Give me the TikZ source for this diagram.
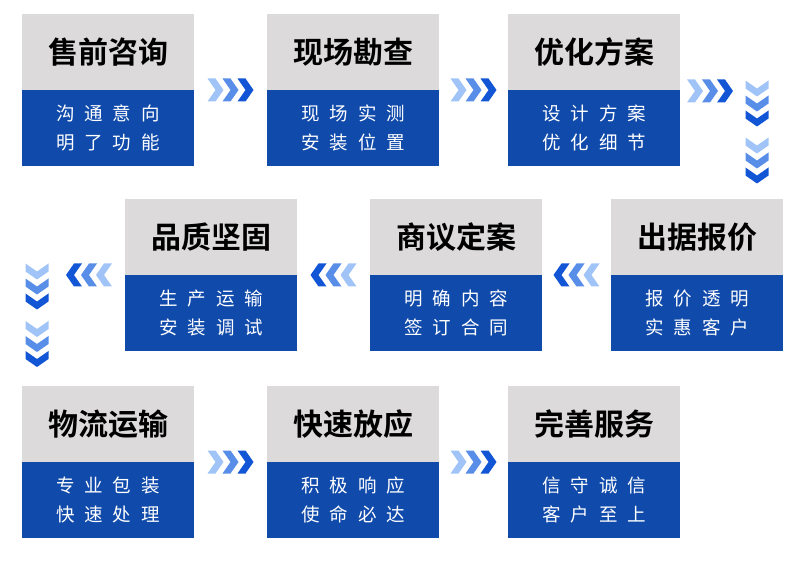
\documentclass[tikz,border=0pt]{standalone}
\usepackage{fontspec}
\usepackage{xcolor}
\usepackage{tikz}
\usetikzlibrary{positioning,calc}
\newfontfamily\cjk[BoldFont={* Bold}]{Noto Sans CJK SC}
\definecolor{headgray}{RGB}{220,218,219}
\definecolor{bodyblue}{RGB}{16,74,170}
\definecolor{chevlight}{RGB}{160,196,247}
\definecolor{chevmid}{RGB}{88,142,232}
\definecolor{chevdark}{RGB}{18,86,214}
\newcommand\gp{\hspace{10pt}}

\begin{document}
\begin{tikzpicture}[x=1pt,y=-1pt,
  head/.style={fill=headgray,minimum width=172pt,minimum height=76pt,inner sep=0pt,outer sep=0pt,
    font=\cjk\bfseries\fontsize{30}{30}\selectfont},
  body/.style={fill=bodyblue,text=white,minimum width=172pt,minimum height=76pt,inner sep=0pt,outer sep=0pt,
    align=center,font=\cjk\fontsize{18.5}{29}\selectfont},
  chevs/.pic={
    \foreach \dx/\col in {-15/chevlight,0/chevmid,15/chevdark}
      \fill[\col,shift={(\dx,0)}] (-8,-11.5) -- (0,-11.5) -- (8,0) -- (0,11.5) -- (-8,11.5) -- (0,0) -- cycle;
  }]
  \useasboundingbox (0,0) rectangle (790,561);

  % row 1
  \node[head] (h1) at (108,52) {售前咨询};
  \node[body,below=0pt of h1] (b1) {沟\gp 通\gp 意\gp 向\\明\gp 了\gp 功\gp 能};
  \node[head] (h2) at (353,52) {现场勘查};
  \node[body,below=0pt of h2] (b2) {现\gp 场\gp 实\gp 测\\安\gp 装\gp 位\gp 置};
  \node[head] (h3) at (594,52) {优化方案};
  \node[body,below=0pt of h3] (b3) {设\gp 计\gp 方\gp 案\\优\gp 化\gp 细\gp 节};

  % row 2
  \node[head] (h7) at (211,237) {品质坚固};
  \node[body,below=0pt of h7] (b7) {生\gp 产\gp 运\gp 输\\安\gp 装\gp 调\gp 试};
  \node[head] (h8) at (456,237) {商议定案};
  \node[body,below=0pt of h8] (b8) {明\gp 确\gp 内\gp 容\\签\gp 订\gp 合\gp 同};
  \node[head] (h9) at (697,237) {出据报价};
  \node[body,below=0pt of h9] (b9) {报\gp 价\gp 透\gp 明\\实\gp 惠\gp 客\gp 户};

  % row 3
  \node[head] (h10) at (108,424) {物流运输};
  \node[body,below=0pt of h10] (b10) {专\gp 业\gp 包\gp 装\\快\gp 速\gp 处\gp 理};
  \node[head] (h11) at (353,424) {快速放应};
  \node[body,below=0pt of h11] (b11) {积\gp 极\gp 响\gp 应\\使\gp 命\gp 必\gp 达};
  \node[head] (h12) at (594,424) {完善服务};
  \node[body,below=0pt of h12] (b12) {信\gp 守\gp 诚\gp 信\\客\gp 户\gp 至\gp 上};

  % chevrons
  \pic at ($(b1.north east)!0.5!(b2.north west)$) {chevs};
  \pic at ($(b2.north east)!0.5!(b3.north west)$) {chevs};
  \pic at ($(b3.north east)+(30,1)$) {chevs};
  \pic[rotate=-90] at (757,103.5) {chevs};
  \pic[rotate=-90] at (757,160.5) {chevs};
  \pic[rotate=180] at ($(b8.north east)!0.5!(b9.north west)$) {chevs};
  \pic[rotate=180] at ($(b7.north east)!0.5!(b8.north west)$) {chevs};
  \pic[rotate=180] at ($(b7.north west)+(-36,0)$) {chevs};
  \pic[rotate=-90] at (37,286.5) {chevs};
  \pic[rotate=-90] at (37,344) {chevs};
  \pic at ($(b10.north east)!0.5!(b11.north west)$) {chevs};
  \pic at ($(b11.north east)!0.5!(b12.north west)$) {chevs};
\end{tikzpicture}
\end{document}
